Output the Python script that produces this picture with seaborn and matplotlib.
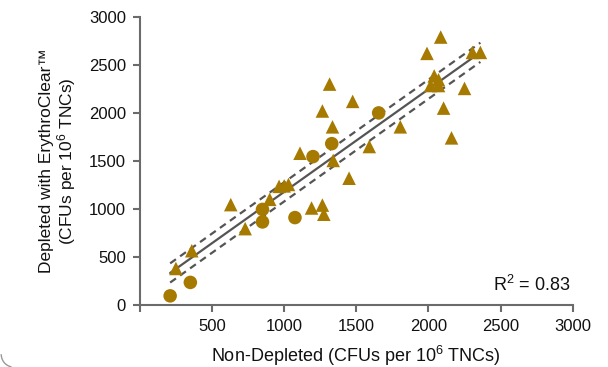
import numpy as np
import pandas as pd
import matplotlib
matplotlib.use("Agg")
import matplotlib.pyplot as plt
import seaborn as sns
from matplotlib.patches import Arc

# ---- data ----
circle_x = [210, 350, 850, 850, 1075, 1200, 1330, 1655]
circle_y = [95, 235, 865, 995, 910, 1545, 1680, 2000]
tri_x = [250, 360, 630, 730, 900, 965, 1000, 1030, 1110, 1190, 1265, 1275,
         1265, 1315, 1335, 1340, 1475, 1450, 1590, 1805, 1990, 2085, 2040,
         2070, 2015, 2070, 2105, 2160, 2250, 2305, 2360]
tri_y = [380, 565, 1045, 795, 1100, 1235, 1240, 1255, 1580, 1010, 1040, 945,
         2020, 2300, 1855, 1505, 2120, 1320, 1650, 1855, 2620, 2790, 2385,
         2345, 2285, 2285, 2050, 1740, 2255, 2630, 2630]
band_halfwidth = 100  # half-width of the dashed confidence band (data units)
x_ticks = [0, 500, 1000, 1500, 2000, 2500, 3000]
x_tick_labels = ["", "500", "1000", "1500", "2000", "2500", "3000"]
y_ticks = [0, 500, 1000, 1500, 2000, 2500, 3000]
r2_label = "R$^2$ = 0.83"

df = pd.DataFrame({
    "x": circle_x + tri_x,
    "y": circle_y + tri_y,
    "kind": ["circle"] * len(circle_x) + ["tri"] * len(tri_x),
})

sns.set_theme(style="white")
plt.rcParams["font.family"] = ["Liberation Sans", "DejaVu Sans"]
plt.rcParams["mathtext.fontset"] = "custom"
plt.rcParams["mathtext.rm"] = "Liberation Sans"
plt.rcParams["mathtext.it"] = "Liberation Sans:italic"
plt.rcParams["mathtext.bf"] = "Liberation Sans:bold"
plt.rcParams["mathtext.default"] = "rm"

fig = plt.figure(figsize=(6.08, 3.67), dpi=100)
ax = fig.add_axes([0.230, 0.169, 0.712, 0.785])

gold = "#A67900"
gray = "#6b6b6b"
linec = "#555555"

sns.scatterplot(data=df, x="x", y="y", style="kind",
                markers={"circle": "o", "tri": "^"},
                s=95, color=gold, edgecolor="none", legend=False, ax=ax, zorder=3)

# regression fit through the points
x = df["x"].to_numpy(float)
y = df["y"].to_numpy(float)
b, a = np.polyfit(x, y, 1)
xs = np.linspace(x.min(), x.max(), 100)
yhat = a + b * xs
ax.plot(xs, yhat, color=linec, lw=1.6, zorder=2)
ax.plot(xs, yhat + band_halfwidth, color=linec, lw=1.6, ls=(0, (3.2, 2.3)), zorder=2)
ax.plot(xs, yhat - band_halfwidth, color=linec, lw=1.6, ls=(0, (3.2, 2.3)), zorder=2)

ax.set_xlim(0, 3000)
ax.set_ylim(0, 3000)
ax.set_xticks(x_ticks)
ax.set_xticklabels(x_tick_labels)
ax.set_yticks(y_ticks)
sns.despine(ax=ax)
for sp in ("left", "bottom"):
    ax.spines[sp].set_color(gray)
    ax.spines[sp].set_linewidth(1.5)
ax.tick_params(axis="both", direction="out", length=5, width=1.5, color=gray,
               labelsize=12, labelcolor="#111111", pad=5, left=True, bottom=True)

ax.set_xlabel("Non-Depleted (CFUs per 10$^6$ TNCs)", fontsize=13, color="#111111", labelpad=7)
ax.set_ylabel("Depleted with ErythroClear\u2122\n(CFUs per 10$^6$ TNCs)", fontsize=12.5,
              color="#111111", labelpad=8, linespacing=1.05)

ax.text(2985, 210, r2_label, ha="right", va="center", fontsize=13, color="#111111")

# partial rounded frame visible at bottom-left corner
arc = Arc((0.022, 0.035), 0.04, 0.07, theta1=180, theta2=265,
          transform=fig.transFigure, color="#999999", lw=1)
fig.patches.append(arc)

fig.savefig("out.png", dpi=100)
